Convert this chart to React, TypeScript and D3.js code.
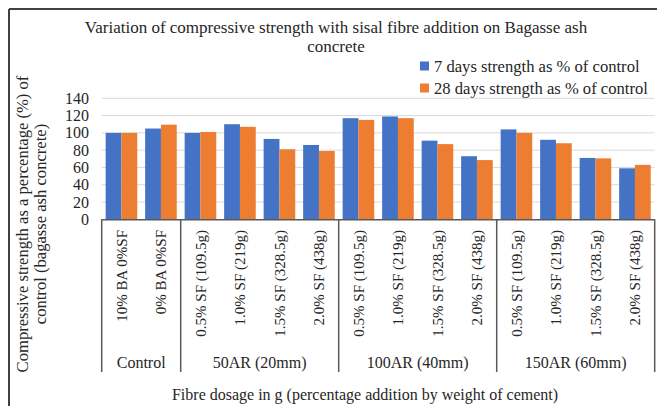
import React from "react";
import * as d3 from "d3";

const groups = ["Control", "50AR (20mm)", "100AR (40mm)", "150AR (60mm)"];
const groupSizes = [2, 4, 4, 4];
const categories = [
  "10% BA 0%SF", "0% BA 0%SF",
  "0.5% SF (109.5g)", "1.0% SF (219g)", "1.5% SF (328.5g)", "2.0% SF (438g)",
  "0.5% SF (109.5g)", "1.0% SF (219g)", "1.5% SF (328.5g)", "2.0% SF (438g)",
  "0.5% SF (109.5g)", "1.0% SF (219g)", "1.5% SF (328.5g)", "2.0% SF (438g)",
];
const sevenDays = [100, 105, 100, 110, 93, 86, 117, 119, 91, 73, 104, 92, 71, 59];
const twentyEightDays = [100, 109.5, 101, 107, 81, 79, 115, 117, 87, 68.5, 100, 88, 70.5, 63];
const yTicks = [0, 20, 40, 60, 80, 100, 120, 140];
const seriesNames = ["7 days strength as % of control", "28 days strength as % of control"];
const colors = ["#4472C4", "#ED7D31"];

const W = 657, H = 406;
const X0 = 101.7, X1 = 654.7, Y0 = 219.3, YT = 98.3;
const FONT = "'Liberation Serif', 'Times New Roman', serif";

export default function App() {
  const idx = categories.map((_, i) => i);
  const x = d3.scaleBand<number>().domain(idx).range([X0, X1]).paddingInner(0.2).paddingOuter(0.1);
  const y = d3.scaleLinear().domain([0, 140]).range([Y0, YT]);
  const sub = d3.scaleBand<number>().domain([0, 1]).range([0, x.bandwidth()]);
  const step = x.step();
  const series = [sevenDays, twentyEightDays];

  const bounds: number[] = [X0];
  let acc = 0;
  groupSizes.forEach((s) => { acc += s; bounds.push(X0 + acc * step); });

  return (
    <svg width={W} height={H} style={{ position: "absolute", left: 0, top: 0, background: "#fff" }} fontFamily={FONT}>
      <rect x={0} y={0} width={W} height={H} fill="#fff" />
      <line x1={9} y1={9} x2={W} y2={9} stroke="#404040" strokeWidth={2} />
      <line x1={9} y1={9} x2={9} y2={H} stroke="#404040" strokeWidth={2} />
      <text x={336} y={33} textAnchor="middle" fontSize={17} fill="#262626">
        Variation of compressive strength with sisal fibre addition on Bagasse ash
      </text>
      <text x={336} y={52} textAnchor="middle" fontSize={17} fill="#262626">concrete</text>
      {seriesNames.map((n, i) => (
        <g key={n}>
          <rect x={420} y={61.5 + i * 22} width={9} height={9} fill={colors[i]} />
          <text x={434} y={71.5 + i * 22} fontSize={16.6} fill="#262626">{n}</text>
        </g>
      ))}
      {yTicks.filter((t) => t > 0).map((t) => (
        <line key={t} x1={X0} x2={X1} y1={y(t)} y2={y(t)} stroke="#d9d9d9" strokeWidth={1} />
      ))}
      {yTicks.map((t) => (
        <text key={t} x={89} y={y(t)} dy="0.35em" textAnchor="end" fontSize={16} fill="#262626">{t}</text>
      ))}
      {series.map((vals, s) =>
        vals.map((v, i) => (
          <rect key={s + "-" + i} x={(x(i) as number) + (sub(s) as number)} y={y(v)}
            width={sub.bandwidth()} height={Y0 - y(v)} fill={colors[s]} />
        ))
      )}
      <line x1={X0} x2={X1} y1={Y0 + 0.5} y2={Y0 + 0.5} stroke="#595959" strokeWidth={1.5} />
      {bounds.map((b, i) => (
        <line key={i} x1={b} x2={b} y1={Y0} y2={372} stroke="#595959" strokeWidth={1.5} />
      ))}
      {categories.map((c, i) => {
        const cx = (x(i) as number) + x.bandwidth() / 2;
        return (
          <text key={i} transform={`translate(${cx},230) rotate(-90)`} textAnchor="end" dy="0.35em"
            fontSize={15} fill="#262626">{c}</text>
        );
      })}
      {groups.map((g, i) => (
        <text key={g} x={(bounds[i] + bounds[i + 1]) / 2} y={368} textAnchor="middle" fontSize={16} fill="#262626">{g}</text>
      ))}
      <text x={365} y={400} textAnchor="middle" fontSize={16} fill="#262626">
        Fibre dosage in g (percentage addition by weight of cement)
      </text>
      <text transform="translate(22,224) rotate(-90)" textAnchor="middle" dy="0.35em" fontSize={16.6} fill="#262626">
        Compressive strength as a percentage (%) of
      </text>
      <text transform="translate(40,224) rotate(-90)" textAnchor="middle" dy="0.35em" fontSize={16.6} fill="#262626">
        control (bagasse ash concrete)
      </text>
    </svg>
  );
}
